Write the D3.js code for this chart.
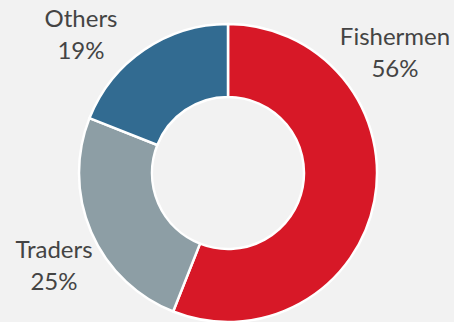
<!DOCTYPE html>
<html>
<head>
<meta charset="utf-8">
<script src="https://cdn.jsdelivr.net/npm/d3@7"></script>
<style>
  html, body { margin: 0; padding: 0; background: #f2f2f2; }
  svg { display: block; }
</style>
</head>
<body>
<svg id="chart" width="454" height="322"></svg>
<script>
// Share of respondents by occupation
const categories = ["Fishermen", "Traders", "Others"];
const shares = [56, 25, 19];
const colors = ["#d71827", "#8d9ea5", "#326b91"];

const width = 454, height = 322;
const cx = 228, cy = 173;
const outerR = 149, innerR = 76;

const svg = d3.select("#chart");
svg.append("rect").attr("width", width).attr("height", height).attr("fill", "#f2f2f2");

const data = categories.map((c, i) => ({ name: c, value: shares[i], color: colors[i] }));

const pie = d3.pie().value(d => d.value).sort(null);
const arc = d3.arc().innerRadius(innerR).outerRadius(outerR);

const g = svg.append("g").attr("transform", `translate(${cx},${cy})`);

g.selectAll("path")
  .data(pie(data))
  .join("path")
  .attr("d", arc)
  .attr("fill", d => d.data.color)
  .attr("stroke", "#ffffff")
  .attr("stroke-width", 2.5)
  .attr("stroke-linejoin", "round");

// Label anchors (centre x, first baseline) outside each slice
const labelPos = {
  "Fishermen": [395, 45],
  "Traders": [54, 258],
  "Others": [81, 27]
};

const labels = svg.append("g")
  .attr("font-family", "Lato, 'Noto Sans', sans-serif")
  .attr("font-size", 24)
  .attr("fill", "#444444")
  .attr("text-anchor", "middle");

data.forEach(d => {
  const [x, y] = labelPos[d.name];
  const t = labels.append("text").attr("x", x).attr("y", y);
  t.append("tspan").attr("x", x).text(d.name);
  t.append("tspan").attr("x", x).attr("dy", 32).text(d.value + "%");
});
</script>
</body>
</html>
